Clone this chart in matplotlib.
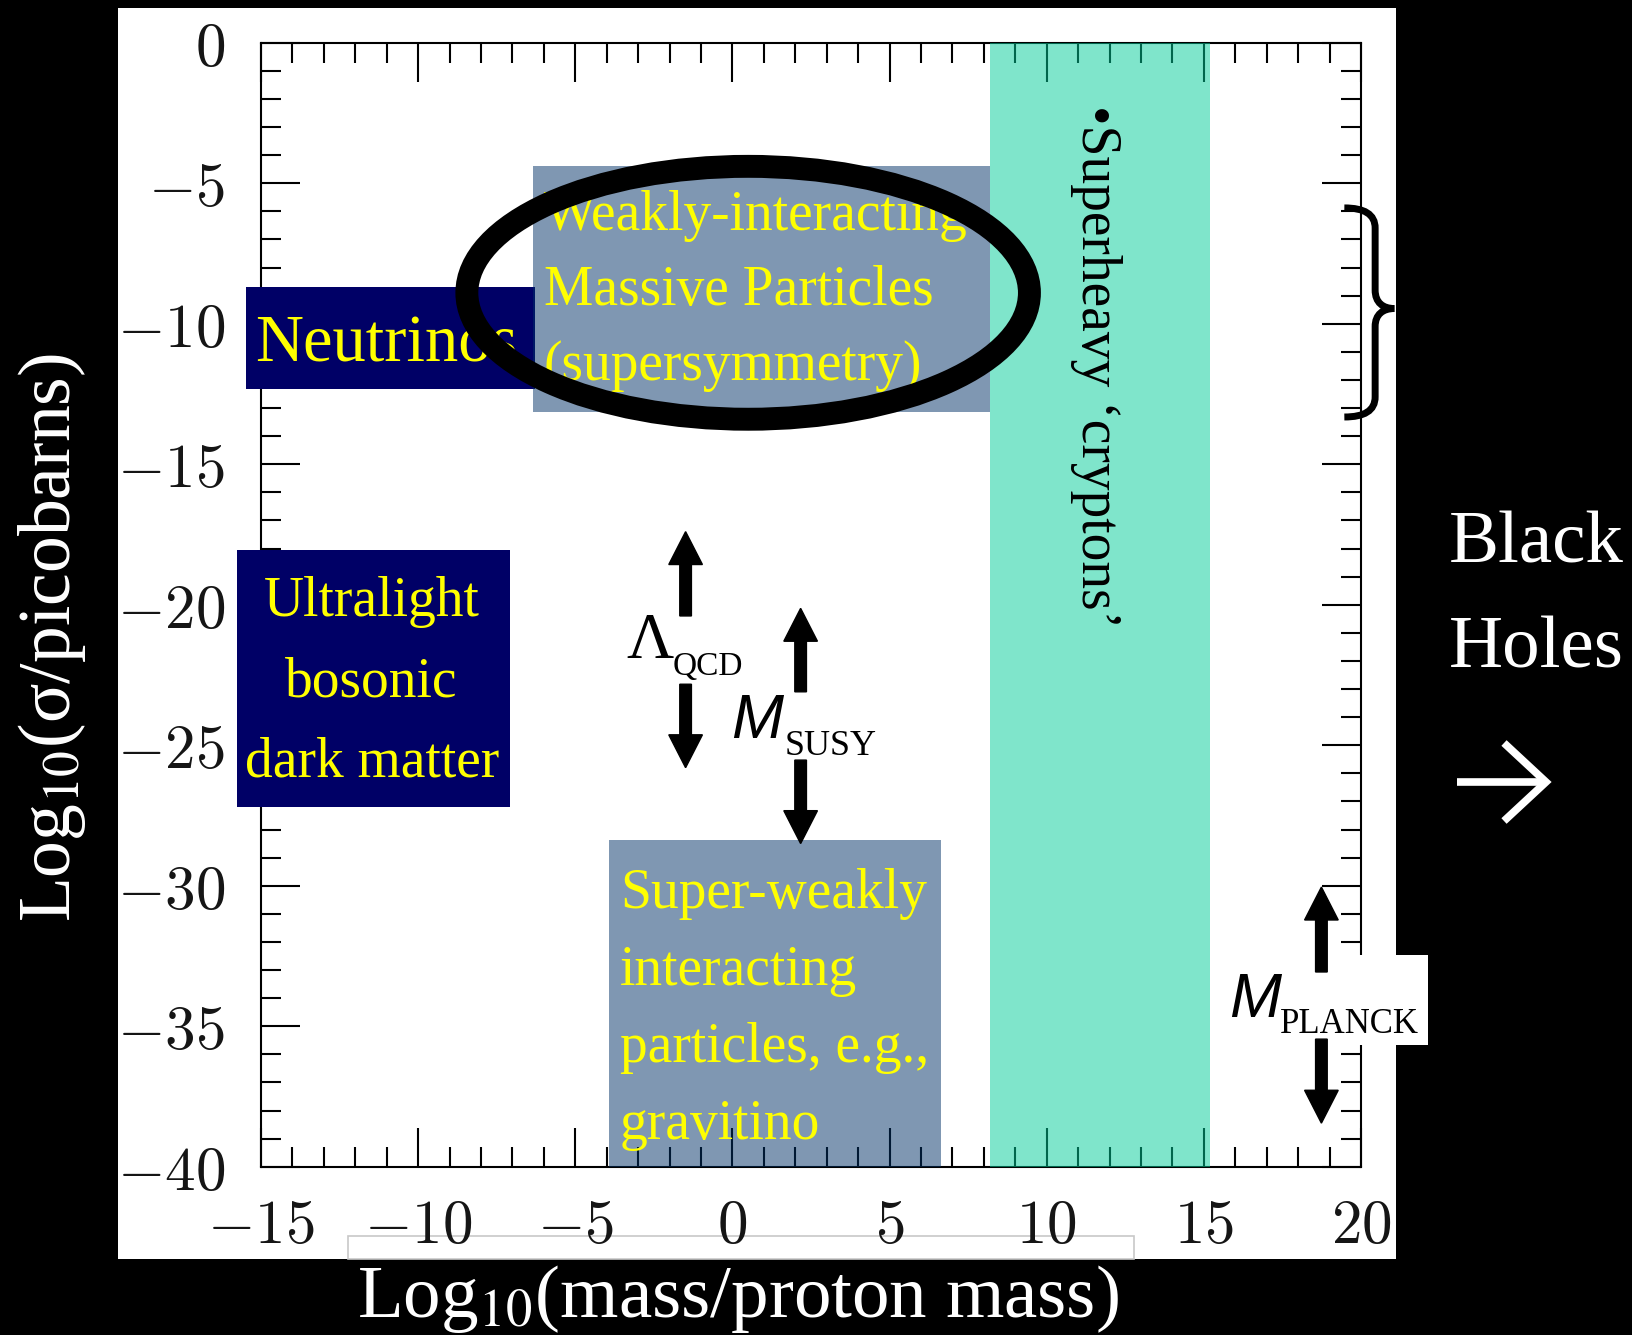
import matplotlib.pyplot as plt
from matplotlib.patches import Rectangle, Ellipse, PathPatch
from matplotlib.path import Path
from matplotlib.lines import Line2D
from matplotlib.ticker import FixedLocator, FixedFormatter, MultipleLocator

plt.rcParams['mathtext.fontset'] = 'cm'
SERIF = ['Liberation Serif', 'DejaVu Serif']
SANS = ['Liberation Sans', 'DejaVu Sans']

# axes: log10(mass / proton mass) vs log10(sigma / picobarns)
x_ticks = [-15, -10, -5, 0, 5, 10, 15, 20]
y_ticks = [0, -5, -10, -15, -20, -25, -30, -35, -40]

# candidate regions (x0, x1, y0, y1 in log10 units)
region_names = ['neutrinos', 'wimp', 'ultralight', 'superweak', 'cryptons']
region_x0 = [-15.48, -6.35, -15.77, -3.92, 8.18]
region_x1 = [-6.27, 8.18, -7.08, 6.65, 15.18]
region_y0 = [-12.33, -13.13, -27.19, -40.0, -40.0]
region_y1 = [-8.68, -4.39, -18.04, -28.37, 0.0]

neutrino_lines = ['Neutrinos']
wimp_lines = ['Weakly-interacting', 'Massive Particles', '(supersymmetry)']
ultralight_lines = ['Ultralight', 'bosonic', 'dark matter']
superweak_lines = ['Super-weakly', 'interacting', 'particles, e.g.,', 'gravitino']

# scale arrows: x position, (tail, tip) up and down
scale_names = ['QCD', 'SUSY', 'PLANCK']
scale_x = [-1.49, 2.17, 18.74]
scale_up = [(-20.4, -17.4), (-23.1, -20.13), (-33.07, -30.05)]
scale_down = [(-22.83, -25.8), (-25.53, -28.5), (-35.46, -38.45)]

fig = plt.figure(figsize=(16.32, 13.35), dpi=100, facecolor='black')
W, H = 1632.0, 1335.0

# white panel behind the original plot
fig.add_artist(Rectangle((118 / W, 1 - 1259.3 / H), (1395.5 - 118) / W, (1259.3 - 7.5) / H,
                         transform=fig.transFigure, facecolor='white', edgecolor='none', zorder=-2))
fig.add_artist(Rectangle((347.7 / W, 1 - 1259.3 / H), (1134 - 347.7) / W, (1259.3 - 1236) / H,
                         transform=fig.transFigure, facecolor='none', edgecolor='#c8c8c8',
                         lw=1.2, zorder=-1))

ax = fig.add_axes([261 / W, 1 - 1166.7 / H, 1100 / W, 1124 / H])
ax.patch.set_visible(False)
ax.set_xlim(-15, 20)
ax.set_ylim(-40, 0)

ax.xaxis.set_major_locator(FixedLocator(x_ticks))
ax.yaxis.set_major_locator(FixedLocator(y_ticks))
ax.xaxis.set_major_formatter(FixedFormatter(['$%d$' % v for v in x_ticks]))
ax.yaxis.set_major_formatter(FixedFormatter(['$%d$' % v for v in y_ticks]))
ax.xaxis.set_minor_locator(MultipleLocator(1))
ax.yaxis.set_minor_locator(MultipleLocator(1))
ax.tick_params(which='both', direction='in', top=True, right=True, width=1.5, color='black')
ax.tick_params(which='major', length=28, labelsize=44, labelcolor='#151515')
ax.tick_params(which='minor', length=14.5)
ax.tick_params(axis='x', which='major', pad=22)
ax.tick_params(axis='y', which='major', pad=26)
for s in ax.spines.values():
    s.set_linewidth(1.5)

# regions
styles = {
    'neutrinos': dict(facecolor='#000066', alpha=1.0),
    'wimp': dict(facecolor='#003166', alpha=0.5),
    'ultralight': dict(facecolor='#000066', alpha=1.0),
    'superweak': dict(facecolor='#003166', alpha=0.5),
    'cryptons': dict(facecolor='#00cc99', alpha=0.5),
}
for name, x0, x1, y0, y1 in zip(region_names, region_x0, region_x1, region_y0, region_y1):
    ax.add_patch(Rectangle((x0, y0), x1 - x0, y1 - y0, edgecolor='none',
                           clip_on=False, zorder=3, **styles[name]))

def block(lines, x, y, step, ha='left', size=40):
    for i, t in enumerate(lines):
        ax.text(x, y - i * step, t, ha=ha, va='baseline', color='#ffff00',
                fontsize=size, family=SERIF, zorder=4)

block(neutrino_lines, -15.19, -11.35, 0, size=48)
block(wimp_lines, -6.0, -6.67, 2.67)
block(ultralight_lines, -11.48, -20.4, 2.86, ha='center')
block(superweak_lines, -3.58, -30.78, 2.75)

ax.text(11.56, -2.2, '\u2022Superheavy \u2018cryptons\u2019', rotation=-90, ha='center',
        va='top', fontsize=40, family=SERIF, color='black', zorder=4)

# WIMP ellipse
ax.add_patch(Ellipse((0.5, -8.9), 17.9, 9.0, facecolor='none', edgecolor='black',
                     lw=16.5, zorder=5, clip_on=False))

# white box behind M_PLANCK
ax.add_patch(Rectangle((15.56, -35.67), 6.58, 3.2, facecolor='white', edgecolor='none',
                       clip_on=False, zorder=3))

for x, (t0, t1), (d0, d1) in zip(scale_x, scale_up, scale_down):
    for a, b in [(t0, t1), (d0, d1)]:
        ax.arrow(x, a, 0, b - a, width=0.37, head_width=1.07, head_length=1.17,
                 length_includes_head=True, color='black', zorder=6, clip_on=False)

ax.text(-3.37, -21.91, '\u039b', fontsize=47, family=SERIF, va='baseline', zorder=6)
ax.text(-1.9, -22.5, 'QCD', fontsize=24, family=SERIF, va='baseline', zorder=6)
ax.text(-0.03, -24.75, 'M', fontsize=45, family=SANS, style='italic', va='baseline', zorder=6)
ax.text(1.66, -25.35, 'SUSY', fontsize=26, family=SERIF, va='baseline', zorder=6)
ax.text(15.79, -34.66, 'M', fontsize=45, family=SANS, style='italic', va='baseline',
        zorder=6, clip_on=False)
ax.text(17.42, -35.23, 'PLANCK', fontsize=25, family=SERIF, va='baseline', zorder=6,
        clip_on=False)

# curly brace next to the WIMP band
verts = [(19.47, -5.88), (20.1, -5.88), (20.45, -6.1), (20.45, -6.6),
         (20.45, -8.8),
         (20.45, -9.25), (20.7, -9.46), (21.06, -9.46),
         (20.7, -9.46), (20.45, -9.67), (20.45, -10.1),
         (20.45, -12.6),
         (20.45, -13.1), (20.1, -13.32), (19.47, -13.32)]
codes = [Path.MOVETO] + [Path.CURVE4] * 3 + [Path.LINETO] + [Path.CURVE4] * 6 + \
        [Path.LINETO] + [Path.CURVE4] * 3
ax.add_patch(PathPatch(Path(verts, codes), facecolor='none', edgecolor='black', lw=5,
                       clip_on=False, zorder=6))

# outer labels
fig.text(737.5 / W, 1 - 1316.6 / H, 'Log$_{\\mathrm{10}}$(mass/proton mass)', ha='center',
         va='baseline', color='white', fontsize=54, family=SERIF, math_fontfamily='stix')
fig.text(52 / W, 1 - 637.5 / H, 'Log$_{\\mathrm{10}}$(\u03c3/picobarns)', ha='center',
         va='center', rotation=90, color='white', fontsize=53, family=SERIF,
         math_fontfamily='stix')
fig.text(1448.8 / W, 1 - 562 / H, 'Black', color='white', fontsize=54, family=SERIF,
         va='baseline')
fig.text(1448.8 / W, 1 - 668 / H, 'Holes', color='white', fontsize=54, family=SERIF,
         va='baseline')

# white arrow pointing to black holes
fig.add_artist(Line2D([1457 / W, 1543 / W], [1 - 782 / H, 1 - 782 / H], color='white',
                      lw=5.5, solid_capstyle='butt', transform=fig.transFigure))
fig.add_artist(Line2D([1504 / W, 1546 / W, 1504 / W], [1 - 743 / H, 1 - 782 / H, 1 - 821 / H],
                      color='white', lw=5.5, solid_joinstyle='miter',
                      solid_capstyle='butt', transform=fig.transFigure))

fig.savefig('out.png', dpi=100, facecolor='black')
